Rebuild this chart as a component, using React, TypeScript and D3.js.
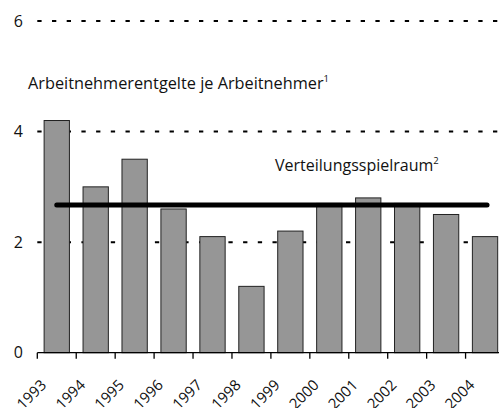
import * as d3 from "d3";

const years = ["1993", "1994", "1995", "1996", "1997", "1998", "1999", "2000", "2001", "2002", "2003", "2004"];
const entgelte = [4.2, 3.0, 3.5, 2.6, 2.1, 1.2, 2.2, 2.7, 2.8, 2.7, 2.5, 2.1];
const spielraum = 2.67;
const yTicks = [0, 2, 4, 6];

const width = 499;
const height = 408;
const font = "'Open Sans', 'Noto Sans', sans-serif";

export default function App() {
  const x = d3.scaleBand<string>().domain(years).range([37.3, 504.5]).padding(0);
  const y = d3.scaleLinear().domain([0, 6]).range([352.7, 21]);
  const barW = x.bandwidth() * 0.65;
  const x0 = x.range()[0];

  const line = d3
    .line<number>()
    .x((d) => d)
    .y(() => y(spielraum));
  const first = years[0];
  const last = years[years.length - 1];

  return (
    <svg
      width={width}
      height={height}
      style={{ position: "absolute", left: 0, top: 0, background: "#fff" }}
      fontFamily={font}
    >
      {/* dotted grid */}
      {yTicks
        .filter((t) => t > 0)
        .map((t) => (
          <line
            key={t}
            x1={x0}
            x2={width}
            y1={y(t)}
            y2={y(t)}
            stroke="#000"
            strokeWidth={2}
            strokeDasharray="4.3 10.4"
          />
        ))}

      {/* y labels */}
      {yTicks.map((t) => (
        <text key={t} x={23} y={y(t)} dy="0.36em" textAnchor="end" fontSize={16} fill="#111">
          {t}
        </text>
      ))}

      {/* bars */}
      {years.map((yr, i) => (
        <rect
          key={yr}
          x={(x(yr) ?? 0) + (x.bandwidth() - barW) / 2}
          y={y(entgelte[i])}
          width={barW}
          height={y(0) - y(entgelte[i])}
          fill="#969696"
          stroke="#222"
          strokeWidth={1}
        />
      ))}

      {/* Verteilungsspielraum line */}
      <path
        d={
          line([
            (x(first) ?? 0) + x.bandwidth() / 2,
            (x(last) ?? 0) + x.bandwidth() / 2 + 2,
          ]) ?? ""
        }
        stroke="#000"
        strokeWidth={5}
        strokeLinecap="round"
        fill="none"
      />

      {/* x axis */}
      <line x1={x0} x2={x.range()[1]} y1={y(0)} y2={y(0)} stroke="#000" strokeWidth={1.3} />
      {years.map((yr) => (
        <line
          key={yr}
          x1={x(yr) ?? 0}
          x2={x(yr) ?? 0}
          y1={y(0)}
          y2={y(0) + 6}
          stroke="#000"
          strokeWidth={1.3}
        />
      ))}
      {years.map((yr) => {
        const cx = (x(yr) ?? 0) + x.bandwidth() / 2;
        return (
          <text
            key={yr}
            transform={`translate(${cx - 9.5},${386}) rotate(-45)`}
            textAnchor="end"
            fontSize={15}
            fill="#111"
          >
            {yr}
          </text>
        );
      })}

      {/* labels */}
      <text x={28} y={89} fontSize={16.3} fill="#111">
        Arbeitnehmerentgelte je Arbeitnehmer
        <tspan fontSize={9.5} dy={-7}>1</tspan>
      </text>
      <text x={275} y={170.7} fontSize={16} fill="#111">
        Verteilungsspielraum
        <tspan fontSize={9.5} dy={-7}>2</tspan>
      </text>
    </svg>
  );
}
